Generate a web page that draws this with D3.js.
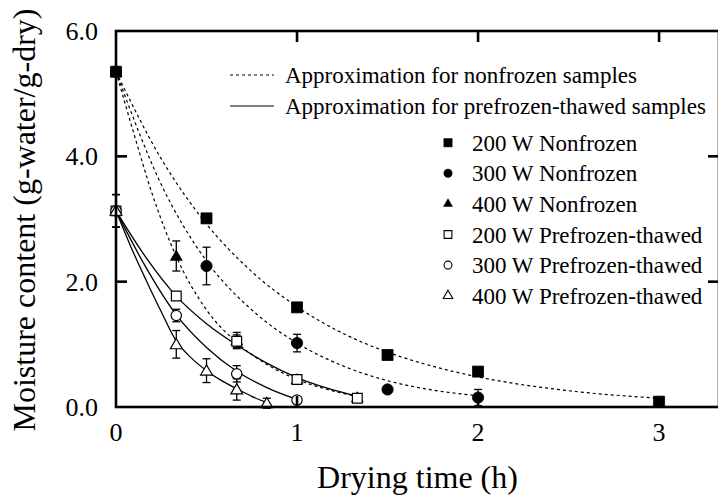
<!doctype html>
<html>
<head>
<meta charset="utf-8">
<title>Drying curves</title>
<script src="https://cdnjs.cloudflare.com/ajax/libs/d3/7.8.5/d3.min.js"></script>
<style>
body { margin:0; background:#fff; }
text { font-family: "Liberation Serif", "Times New Roman", serif; fill:#000; }
</style>
</head>
<body>
<div id="chartContainer"></div>
<script>
// measured points (drying time h, moisture g-water/g-dry, error half-width)
var nf200T = [0, 0.5, 1, 1.5, 2, 3];
var nf200M = [5.35, 3.01, 1.59, 0.83, 0.565, 0.085];
var nf200E = [0, 0.07, 0.05, 0.05, 0, 0];

var nf300T = [0, 0.5, 1, 1.5, 2];
var nf300M = [5.35, 2.25, 1.02, 0.28, 0.15];
var nf300E = [0, 0.30, 0.14, 0, 0.13];

var nf400T = [0, 0.333, 0.667, 1, 1.333];
var nf400M = [5.35, 2.41, 1.06, 0.44, 0.15];
var nf400E = [0, 0.24, 0.13, 0.05, 0.05];

var pf200T = [0, 0.333, 0.667, 1, 1.333];
var pf200M = [3.13, 1.77, 1.05, 0.44, 0.14];
var pf200E = [0.26, 0, 0.10, 0.05, 0.05];

var pf300T = [0, 0.333, 0.667, 1];
var pf300M = [3.13, 1.46, 0.53, 0.11];
var pf300E = [0.26, 0.10, 0.13, 0.03];

var pf400T = [0, 0.333, 0.5, 0.667, 0.833];
var pf400M = [3.13, 1.00, 0.58, 0.28, 0.06];
var pf400E = [0.26, 0.22, 0.19, 0.17, 0.08];

// approximation curves
var fitNf200T = [0, 0.25, 0.5, 0.75, 1, 1.25, 1.5, 1.75, 2, 2.5, 3];
var fitNf200M = [5.35, 3.96, 2.92, 2.16, 1.60, 1.18, 0.875, 0.65, 0.48, 0.26, 0.14];
var fitNf300T = [0, 0.25, 0.5, 0.75, 1, 1.25, 1.5, 1.75, 2];
var fitNf300M = [5.35, 3.55, 2.33, 1.55, 1.02, 0.66, 0.42, 0.27, 0.18];
var fitNf400T = [0, 0.1, 0.2, 0.333, 0.5, 0.667, 0.833, 1, 1.167, 1.333];
var fitNf400M = [5.35, 4.35, 3.40, 2.40, 1.55, 1.03, 0.68, 0.44, 0.28, 0.17];
var fitPf200T = [0, 0.167, 0.333, 0.5, 0.667, 0.833, 1, 1.167, 1.333];
var fitPf200M = [3.13, 2.38, 1.77, 1.33, 0.99, 0.70, 0.47, 0.30, 0.17];
var fitPf300T = [0, 0.167, 0.333, 0.5, 0.667, 0.833, 1];
var fitPf300M = [3.13, 2.22, 1.47, 0.95, 0.57, 0.31, 0.12];
var fitPf400T = [0, 0.083, 0.167, 0.25, 0.333, 0.417, 0.5, 0.583, 0.667, 0.75, 0.833];
var fitPf400M = [3.13, 2.55, 2.02, 1.52, 1.05, 0.78, 0.58, 0.42, 0.29, 0.17, 0.07];

var seriesNames = ["200 W Nonfrozen", "300 W Nonfrozen", "400 W Nonfrozen",
                   "200 W Prefrozen-thawed", "300 W Prefrozen-thawed", "400 W Prefrozen-thawed"];
var lineNames = ["Approximation for nonfrozen samples", "Approximation for prefrozen-thawed samples"];
var yTicks = [0, 2, 4, 6];
var xTicks = [0, 1, 2, 3];

var W = 718, H = 498;
var x0 = 116, x1 = 719, y0 = 407, y1 = 31;

var svg = d3.select("#chartContainer").append("svg")
    .attr("width", W).attr("height", H);

var x = d3.scaleLinear().domain([0, 3.331]).range([x0, x1]);
var y = d3.scaleLinear().domain([0, 6]).range([y0, y1]);

function zip(ts, ms, es) {
  return ts.map(function(t, i) { return {t: t, m: ms[i], e: es ? es[i] : 0}; });
}

var series = [
  {pts: zip(nf200T, nf200M, nf200E), shape: d3.symbolSquare, size: 121, filled: true},
  {pts: zip(nf300T, nf300M, nf300E), shape: d3.symbolCircle, size: 100, filled: true},
  {pts: zip(nf400T, nf400M, nf400E), shape: d3.symbolTriangle, size: 60, filled: true},
  {pts: zip(pf200T, pf200M, pf200E), shape: d3.symbolSquare, size: 95, filled: false},
  {pts: zip(pf300T, pf300M, pf300E), shape: d3.symbolCircle, size: 85, filled: false},
  {pts: zip(pf400T, pf400M, pf400E), shape: d3.symbolTriangle, size: 60, filled: false}
];

var fits = [
  {pts: zip(fitNf200T, fitNf200M), dashed: true},
  {pts: zip(fitNf300T, fitNf300M), dashed: true},
  {pts: zip(fitNf400T, fitNf400M), dashed: true},
  {pts: zip(fitPf200T, fitPf200M), dashed: false},
  {pts: zip(fitPf300T, fitPf300M), dashed: false},
  {pts: zip(fitPf400T, fitPf400M), dashed: false}
];

var line = d3.line()
    .x(function(d) { return x(d.t); })
    .y(function(d) { return y(d.m); })
    .curve(d3.curveMonotoneX);

svg.append("g").selectAll("path")
  .data(fits).enter().append("path")
    .attr("d", function(d) { return line(d.pts); })
    .attr("fill", "none")
    .attr("stroke", "#000")
    .attr("stroke-width", function(d) { return d.dashed ? 1.2 : 1.3; })
    .attr("stroke-dasharray", function(d) { return d.dashed ? "3,3" : null; });

// error bars
var eb = svg.append("g").attr("stroke", "#000").attr("stroke-width", 1.3);
series.forEach(function(s) {
  s.pts.filter(function(p) { return p.e > 0; }).forEach(function(p) {
    var cx = x(p.t);
    eb.append("line").attr("x1", cx).attr("x2", cx)
      .attr("y1", y(p.m + p.e)).attr("y2", y(p.m - p.e));
    [p.m + p.e, p.m - p.e].forEach(function(v) {
      eb.append("line").attr("x1", cx - 4).attr("x2", cx + 4)
        .attr("y1", y(v)).attr("y2", y(v));
    });
  });
});

// markers
series.forEach(function(s) {
  var sym = d3.symbol().type(s.shape).size(s.size);
  svg.append("g").selectAll("path")
    .data(s.pts).enter().append("path")
      .attr("d", sym)
      .attr("transform", function(d) {
        var dy = s.shape === d3.symbolTriangle ? 1 : 0;
        return "translate(" + x(d.t) + "," + (y(d.m) + dy) + ")";
      })
      .attr("fill", s.filled ? "#000" : "#fff")
      .attr("stroke", "#000")
      .attr("stroke-width", s.filled ? 0.8 : 1.2);
});

// axes frame
var frame = svg.append("g").attr("stroke", "#000").attr("stroke-width", 2.6).attr("fill", "none");
frame.append("rect").attr("x", x0).attr("y", y1).attr("width", x1 - x0).attr("height", y0 - y1);

var tk = svg.append("g").attr("stroke", "#000").attr("stroke-width", 2.6);
[2, 4].forEach(function(v) {
  tk.append("line").attr("x1", x0).attr("x2", x0 + 11).attr("y1", y(v)).attr("y2", y(v));
  tk.append("line").attr("x1", x1).attr("x2", x1 - 11).attr("y1", y(v)).attr("y2", y(v));
});
[1, 2, 3].forEach(function(v) {
  tk.append("line").attr("x1", x(v)).attr("x2", x(v)).attr("y1", y1).attr("y2", y1 + 11);
  tk.append("line").attr("x1", x(v)).attr("x2", x(v)).attr("y1", y0).attr("y2", y0 - 11);
});

svg.append("g").selectAll("text")
  .data(yTicks).enter().append("text")
    .attr("x", 98).attr("y", function(d) { return y(d) + 9; })
    .attr("text-anchor", "end")
    .style("font-size", "26px")
    .text(function(d) { return d.toFixed(1); });

svg.append("g").selectAll("text")
  .data(xTicks).enter().append("text")
    .attr("x", function(d) { return x(d); }).attr("y", 441)
    .attr("text-anchor", "middle")
    .style("font-size", "26px")
    .text(function(d) { return d; });

svg.append("text")
  .attr("x", (x0 + x1) / 2).attr("y", 488)
  .attr("text-anchor", "middle")
  .style("font-size", "32px")
  .text("Drying time (h)");

svg.append("text")
  .attr("transform", "translate(35,220) rotate(-90)")
  .attr("text-anchor", "middle")
  .style("font-size", "32px")
  .text("Moisture content (g-water/g-dry)");

// legend: approximation lines
var lg = svg.append("g");
lineNames.forEach(function(name, i) {
  var ly = 75 + i * 31;
  lg.append("line").attr("x1", 230).attr("x2", 274).attr("y1", ly).attr("y2", ly)
    .attr("stroke", "#000").attr("stroke-width", 1.2)
    .attr("stroke-dasharray", i === 0 ? "3,3" : null);
  lg.append("text").attr("x", 285).attr("y", ly + 7.5)
    .style("font-size", "23px").text(name);
});

// legend: symbols
var legendSizes = [70, 55, 35, 60, 50, 40];
seriesNames.forEach(function(name, i) {
  var ly = 142.7 + i * 30.6;
  var s = series[i];
  lg.append("path")
    .attr("d", d3.symbol().type(s.shape).size(legendSizes[i]))
    .attr("transform", "translate(448," + ly + ")")
    .attr("fill", s.filled ? "#000" : "#fff")
    .attr("stroke", "#000").attr("stroke-width", s.filled ? 0.5 : 1.1);
  lg.append("text").attr("x", 472).attr("y", ly + 8)
    .style("font-size", "23px").text(name);
});
</script>
</body>
</html>
